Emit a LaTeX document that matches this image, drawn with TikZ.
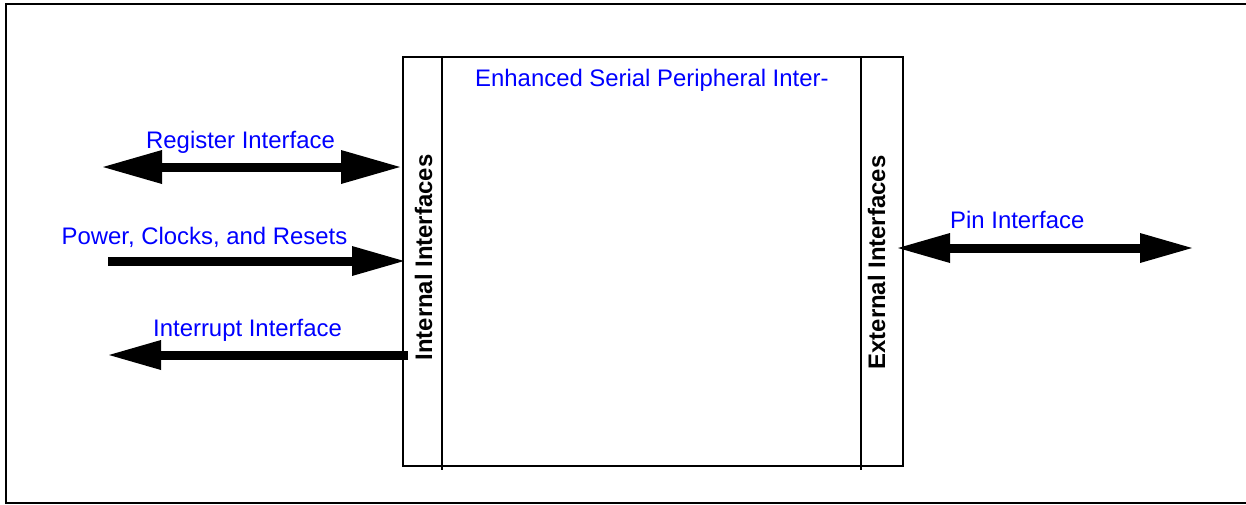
\documentclass[tikz,border=0pt]{standalone}
\usepackage{fontspec}
\setmainfont{Liberation Sans}
\usetikzlibrary{arrows.meta}
\tikzset{
  lbl/.style={text=blue, font=\fontsize{23.9}{28}\selectfont, inner sep=0pt, anchor=base west},
  vlbl/.style={text=black, font=\bfseries\fontsize{23.9}{28}\selectfont, inner sep=0pt, rotate=90, anchor=base},
  shaft/.style={line width=9pt},
  bigtip/.tip={Triangle[length=59pt, width=34pt, line width=0pt]},
  midtip/.tip={Triangle[length=52pt, width=30pt, line width=0pt]},
  frame/.style={line width=2.2pt},
  boxline/.style={line width=2.8pt},
  colline/.style={line width=2pt}
}
\begin{document}
\begin{tikzpicture}[x=1pt,y=-1pt]
\useasboundingbox (0,0) rectangle (1246,504);
\clip (0,0) rectangle (1246,504);
\draw[frame] (6,4.3) rectangle (1260,503);
% main block
\node[draw, boxline, minimum width=500pt, minimum height=409pt, inner sep=0pt, outer sep=0pt, anchor=north west] (esp) at (403,57) {};
\coordinate (c1t) at (442,57);
\coordinate (c1b) at (442,470);
\coordinate (c2t) at (861,57);
\coordinate (c2b) at (861,470);
\draw[colline] (c1t) -- (c1b);
\draw[colline] (c2t) -- (c2b);
\node[lbl] (title) at (475,86.7) {Enhanced Serial Peripheral Inter-};
\node[vlbl] (intl) at (432,257.5) {Internal Interfaces};
\node[vlbl] (extl) at (885,262.5) {External Interfaces};
% register interface
\coordinate (regL) at (103,167);
\coordinate (regR) at (400,167);
\draw[shaft, bigtip-bigtip] (regL) -- (regR);
\node[lbl] (regt) at (146,148.5) {Register Interface};
% power
\coordinate (pwrL) at (108,261);
\coordinate (pwrR) at (404,261);
\draw[shaft, -midtip] (pwrL) -- (pwrR);
\node[lbl] (pwrt) at (61.5,244) {Power, Clocks, and Resets};
% interrupt
\coordinate (intR) at (408,355);
\coordinate (intL) at (109,355);
\draw[shaft, -midtip] (intR) -- (intL);
\node[lbl] (intt) at (153,336.7) {Interrupt Interface};
% pin
\coordinate (pinL) at (898,248);
\coordinate (pinR) at (1192,248);
\draw[shaft, midtip-midtip] (pinL) -- (pinR);
\node[lbl] (pint) at (950,228) {Pin Interface};
\end{tikzpicture}
\end{document}
